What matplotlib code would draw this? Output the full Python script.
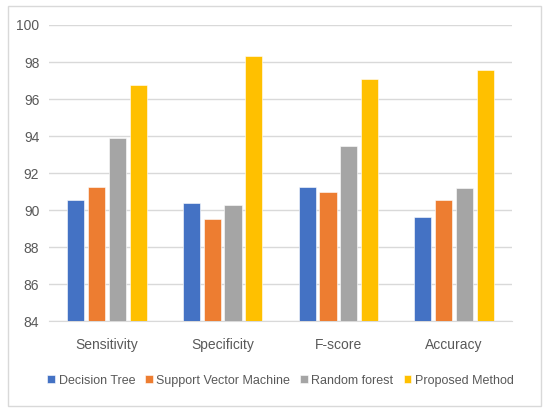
import numpy as np, matplotlib; matplotlib.use("Agg"); import matplotlib.pyplot as plt
from matplotlib.patches import Rectangle

categories = ["Sensitivity", "Specificity", "F-score", "Accuracy"]
series_names = ["Decision Tree", "Support Vector Machine", "Random forest", "Proposed Method"]
decision_tree = [90.56, 90.41, 91.24, 89.64]
svm = [91.24, 89.53, 90.99, 90.56]
random_forest = [93.89, 90.27, 93.48, 91.19]
proposed = [96.76, 98.34, 97.08, 97.57]
yticks = [84, 86, 88, 90, 92, 94, 96, 98, 100]

colors = ["#4472C4", "#ED7D31", "#A5A5A5", "#FFC000"]
plt.rcParams["font.family"] = ["Liberation Sans", "DejaVu Sans"]

fig = plt.figure(figsize=(5.49, 4.09), dpi=100)
ax = fig.add_axes([49/549, 1-321.3/409, (512-49)/549, (321.3-25)/409])
fig.patches.append(Rectangle((8/549, 3/409), 533/549, 400/409, transform=fig.transFigure,
                             fill=False, edgecolor="#D9D9D9", linewidth=1.0))

x = np.arange(len(categories)); step = 0.18; w = 0.148
for i, (vals, name) in enumerate(zip([decision_tree, svm, random_forest, proposed], series_names)):
    ax.bar(x + (i - 1.5) * step, vals, w, color=colors[i], label=name, zorder=3,
           edgecolor="white", linewidth=0.4)

ax.set_ylim(84, 100); ax.set_yticks(yticks); ax.set_xlim(-0.5, 3.5)
ax.set_xticks(x); ax.set_xticklabels(categories)
ax.yaxis.grid(True, color="#D9D9D9", linewidth=1.0, zorder=0)
for s in ["top", "right", "left"]: ax.spines[s].set_visible(False)
ax.spines["bottom"].set_color("#D9D9D9")
ax.tick_params(axis="both", length=0, colors="#595959", labelsize=10)
ax.tick_params(axis="x", pad=12); ax.tick_params(axis="y", pad=7)
ax.legend(loc="center", bbox_to_anchor=(0.5, -0.2), ncol=4, frameon=False, fontsize=9,
          handlelength=0.6, handleheight=0.6, handletextpad=0.3, columnspacing=0.8,
          labelcolor="#595959")
fig.savefig("out.png", dpi=100)
